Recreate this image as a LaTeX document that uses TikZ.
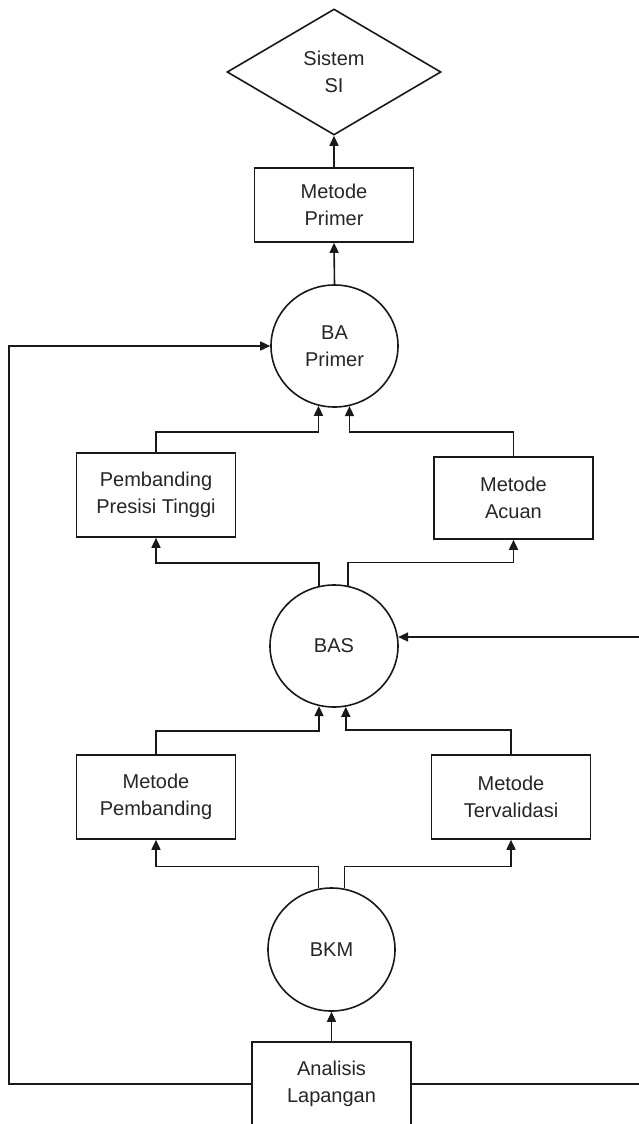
\documentclass[tikz,border=0pt]{standalone}
\usepackage{fontspec}
\setmainfont{Liberation Sans}
\usetikzlibrary{shapes.geometric,arrows.meta,calc}
\tikzset{
  base/.style={draw=black!90, line width=1.6pt, inner sep=0pt, align=center,
    text=black!85, font=\fontsize{20}{27}\selectfont},
  boxnode/.style={base, rectangle, minimum width=159pt, minimum height=84pt},
  ellnode/.style={base, ellipse, minimum width=127pt, minimum height=122pt},
  dianode/.style={base, diamond, minimum width=214pt, minimum height=126pt},
  conn/.style={draw=black!90, line width=1.6pt, -{Triangle[length=10pt,width=9pt]}},
}
\begin{document}
\begin{tikzpicture}[x=1pt,y=-1pt]
\useasboundingbox (0,0) rectangle (639,1124);
\clip (0,0) rectangle (639,1124);
\fill[white] (0,0) rectangle (639,1124);

\node[dianode] (sis) at (334,72) {Sistem\\SI};
\node[boxnode, minimum height=74pt] (mp) at (334,205) {Metode\\Primer};
\node[ellnode] (bap) at (334.5,346) {BA\\Primer};
\node[boxnode] (ppt) at (156,495) {Pembanding\\Presisi Tinggi};
\node[boxnode, minimum height=82pt] (ma) at (513.5,498) {Metode\\Acuan};
\node[ellnode, minimum width=128pt] (bas) at (334,646) {BAS};
\node[boxnode] (mpb) at (156,797) {Metode\\Pembanding};
\node[boxnode] (mt) at (511,797) {Metode\\Tervalidasi};
\node[ellnode, minimum height=123pt] (bkm) at (331.5,949.5) {BKM};
\node[boxnode] (al) at (331.5,1084) {Analisis\\Lapangan};

% top chain
\draw[conn] (mp.north) -- (sis.south);
\draw[conn] (bap.north) -- (mp.south);

% into BA Primer
\draw[conn] (ppt.north) -- ++(0,-20) -| (bap.255);
\draw[conn] (ma.north) -- ++(0,-24) -| (bap.284);

% from BAS up
\draw[conn] (bas.104) -- ++(0,-23) -| (ppt.south);
\draw[conn] (bas.77) -- ++(0,-23) -| (ma.south);

% into BAS
\draw[conn] (mpb.north) -- ++(0,-23) -| (bas.256);
\draw[conn] (mt.north) -- ++(0,-24) -| (bas.281);

% from BKM up
\draw[conn] (bkm.102) -- ++(0,-22) -| (mpb.south);
\draw[conn] (bkm.78) -- ++(0,-22) -| (mt.south);

% Analisis
\draw[conn] (al.north) -- (bkm.south);
\draw[conn] (al.west) -| ($(bap.west)-(261,0)$) -- (bap.west);
\draw[conn] (al.east) -| ($(bas.8)+(260,0)$) -- (bas.8);
\end{tikzpicture}
\end{document}
